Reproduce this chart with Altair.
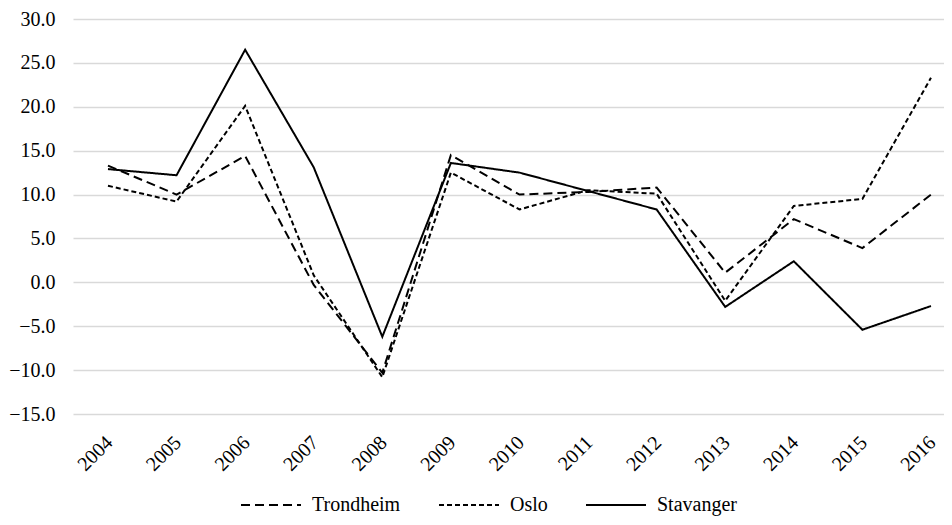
import altair as alt
import pandas as pd

years = [2004, 2005, 2006, 2007, 2008, 2009, 2010, 2011, 2012, 2013, 2014, 2015, 2016]
series_names = ["Trondheim", "Oslo", "Stavanger"]
trondheim = [13.3, 10.0, 14.4, -0.3, -10.3, 14.5, 10.0, 10.3, 10.8, 1.1, 7.2, 3.9, 10.0]
oslo = [11.0, 9.2, 20.1, 0.8, -10.8, 12.5, 8.3, 10.5, 10.1, -2.1, 8.7, 9.5, 23.3]
stavanger = [12.9, 12.2, 26.5, 13.1, -6.2, 13.6, 12.5, 10.4, 8.3, -2.8, 2.4, -5.4, -2.7]
y_ticks = [-15, -10, -5, 0, 5, 10, 15, 20, 25, 30]

rows = []
for name, vals in zip(series_names, [trondheim, oslo, stavanger]):
    for yr, v in zip(years, vals):
        rows.append({"Year": yr, "Value": v, "Series": name})
df = pd.DataFrame(rows)

FONT = "Liberation Serif, Times New Roman, serif"
FS = 20

chart = alt.Chart(df).mark_line(color="black", strokeWidth=2).encode(
    x=alt.X("Year:Q",
            scale=alt.Scale(domain=[2003.49, 2016.19], nice=False, zero=False),
            axis=alt.Axis(values=years, format="d", labelAngle=-45, grid=False,
                          ticks=False, domain=False, title=None,
                          labelFont=FONT, labelFontSize=FS, labelColor="black",
                          labelPadding=18, labelOffset=-6)),
    y=alt.Y("Value:Q",
            scale=alt.Scale(domain=[-15, 30], nice=False, zero=False),
            axis=alt.Axis(values=y_ticks, format=".1f", grid=True, gridColor="#d9d9d9",
                          gridWidth=1.5, ticks=False, domain=False, title=None,
                          labelFont=FONT, labelFontSize=FS, labelColor="black",
                          labelPadding=18)),
    strokeDash=alt.StrokeDash("Series:N",
                              scale=alt.Scale(domain=series_names,
                                              range=[[9, 5], [5, 3], [1, 0]]),
                              legend=alt.Legend(orient="none", direction="horizontal",
                                                legendX=167, legendY=455,
                                                title=None, symbolType="stroke",
                                                symbolSize=3600, symbolStrokeWidth=2,
                                                symbolStrokeColor="black",
                                                labelFont=FONT, labelFontSize=FS,
                                                labelColor="black", labelOffset=10,
                                                columnPadding=34)),
    detail="Series:N",
).properties(
    width=871,
    height=395,
    padding={"left": 65, "top": 11, "right": 0, "bottom": 108},
    autosize=alt.AutoSizeParams(type="none"),
).configure_view(stroke=None)

chart.save("out.html", embed_options={"renderer": "svg", "actions": False})
